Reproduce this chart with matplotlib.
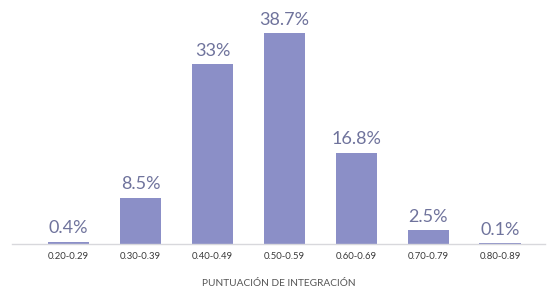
import matplotlib
matplotlib.use("Agg")
import matplotlib.pyplot as plt

categories = ["0.20-0.29", "0.30-0.39", "0.40-0.49", "0.50-0.59", "0.60-0.69", "0.70-0.79", "0.80-0.89"]
values = [0.4, 8.5, 33, 38.7, 16.8, 2.5, 0.1]
labels = ["0.4%", "8.5%", "33%", "38.7%", "16.8%", "2.5%", "0.1%"]
xlabel = "PUNTUACIÓN DE INTEGRACIÓN"

plt.rcParams['font.family'] = ['Lato', 'DejaVu Sans']

W, H = 556, 289
fig = plt.figure(figsize=(W/100, H/100), dpi=100)
ax = fig.add_axes([12/W, 45/H, (545-12)/W, 244/H])

x = list(range(len(categories)))
bars = ax.bar(x, values, width=0.58, color="#8b8fc7")
ax.set_xlim(-0.785, 6.62)
ax.set_ylim(0, 44.8)

for xi, v, lab in zip(x, values, labels):
    ax.text(xi, v + 1.0, lab, ha="center", va="bottom", fontsize=13,
            color="#6f739c")

for s in ["top", "right", "left"]:
    ax.spines[s].set_visible(False)
ax.spines["bottom"].set_color("#d8d8dc")
ax.spines["bottom"].set_linewidth(1.0)
ax.set_yticks([])
ax.set_xticks(x)
ax.set_xticklabels(categories, fontsize=6.8, color="#3a3a3a")
ax.tick_params(axis="x", length=0, pad=6)
ax.set_xlabel(xlabel, fontsize=7.3, color="#555555", labelpad=13)

fig.savefig("out.png", dpi=100)
